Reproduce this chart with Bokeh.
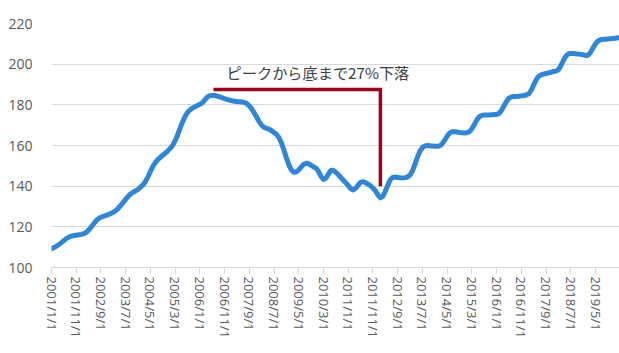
from bokeh.plotting import figure
from bokeh.models import Range1d, FixedTicker
from bokeh.core.properties import value
from bokeh.embed import file_html
from bokeh.resources import INLINE

# Monthly index values, 2001/1 .. 2020/2
v2001 = [109.3, 109.8, 110.5, 111.3, 112.2, 113.2, 114.2, 114.9, 115.4, 115.7, 115.9, 116.1]
v2002 = [116.3, 116.6, 117.2, 118.4, 119.8, 121.4, 122.9, 124.0, 124.7, 125.2, 125.6, 126.0]
v2003 = [126.6, 127.2, 128.0, 129.1, 130.5, 132.0, 133.6, 135.0, 136.2, 137.0, 137.7, 138.4]
v2004 = [139.5, 140.6, 142.3, 144.6, 147.2, 149.7, 151.6, 153.1, 154.2, 155.2, 156.2, 157.3]
v2005 = [158.6, 160.1, 162.3, 165.2, 168.5, 171.6, 174.3, 176.2, 177.5, 178.4, 179.1, 179.7]
v2006 = [180.3, 181.0, 182.4, 183.8, 184.5, 184.6, 184.6, 184.3, 183.9, 183.5, 183.0, 182.6]
v2007 = [182.3, 182.0, 181.8, 181.6, 181.5, 181.4, 181.2, 180.6, 179.5, 177.9, 176.0, 173.9]
v2008 = [171.6, 169.9, 168.9, 168.4, 168.0, 167.3, 166.4, 165.4, 163.8, 161.2, 157.8, 153.9]
v2009 = [150.5, 148.0, 146.8, 147.0, 148.0, 149.5, 150.8, 151.3, 151.0, 150.3, 149.5, 148.8]
v2010 = [147.2, 144.8, 143.3, 144.0, 146.0, 147.7, 147.8, 146.8, 145.6, 144.3, 142.9, 141.6]
v2011 = [140.3, 138.8, 138.1, 138.9, 140.6, 141.9, 142.2, 141.8, 141.0, 140.2, 139.1, 137.7]
v2012 = [135.6, 134.3, 135.0, 137.5, 140.5, 143.2, 144.3, 144.5, 144.3, 144.1, 144.0, 144.2]
v2013 = [144.5, 145.5, 147.5, 150.8, 154.3, 157.2, 159.0, 159.8, 160.0, 159.9, 159.7, 159.6]
v2014 = [159.6, 159.8, 160.8, 162.6, 164.6, 166.1, 166.8, 166.8, 166.6, 166.4, 166.3, 166.2]
v2015 = [166.3, 166.8, 168.2, 170.3, 172.6, 174.2, 174.8, 175.0, 175.0, 175.0, 175.1, 175.2]
v2016 = [175.3, 175.8, 177.3, 179.5, 181.7, 183.3, 183.9, 184.1, 184.1, 184.2, 184.4, 184.6]
v2017 = [184.8, 185.4, 187.2, 189.8, 192.3, 194.0, 194.7, 195.1, 195.4, 195.7, 196.0, 196.4]
v2018 = [196.6, 197.2, 199.3, 201.8, 203.9, 205.0, 205.3, 205.3, 205.1, 205.0, 204.8, 204.6]
v2019 = [204.3, 204.4, 205.8, 208.0, 210.0, 211.4, 212.0, 212.2, 212.3, 212.4, 212.5, 212.6]
v2020 = [212.7, 213.0]

years = list(range(2001, 2021))
yearly = [v2001, v2002, v2003, v2004, v2005, v2006, v2007, v2008, v2009, v2010,
          v2011, v2012, v2013, v2014, v2015, v2016, v2017, v2018, v2019, v2020]

values = []
dates = []
for yr, vals in zip(years, yearly):
    for i, v in enumerate(vals):
        values.append(v)
        dates.append(f"{yr}/{i + 1}/1")

y_ticks = [100, 120, 140, 160, 180, 200, 220]
label_every = 10
annotation_text = "ピークから底まで27%下落"

idx = list(range(len(values)))
peak_i = values.index(max(values[:120]))
trough_i = peak_i + values[peak_i:150].index(min(values[peak_i:150]))

p = figure(width=619, height=353, output_backend="svg", toolbar_location=None,
           x_range=Range1d(0, 229.7), y_range=Range1d(100, 220),
           min_border_left=51, min_border_right=0, min_border_top=23, min_border_bottom=86)
p.outline_line_color = None
p.background_fill_color = "white"
p.border_fill_color = "white"

p.line(idx, values, line_color="#2E86DA", line_width=5, line_join="round", line_cap="round")

# annotation bracket
ann_y = 187.6
p.line([peak_i + 0.5, trough_i, trough_i], [ann_y, ann_y, 140],
       line_color="#A0001E", line_width=3.5, line_join="miter", line_cap="butt")
p.text(x=[peak_i + 5.8], y=[196.2], text=[annotation_text],
       text_font=value("Noto Sans CJK JP"), text_font_size="15.2px",
       text_color="#404040", text_baseline="middle", text_align="left")

# axes
p.xgrid.grid_line_color = None
p.ygrid.grid_line_color = "#D9D9D9"
p.ygrid.grid_line_width = 1

p.yaxis.ticker = FixedTicker(ticks=y_ticks)
p.yaxis.axis_line_color = None
p.yaxis.major_tick_line_color = None
p.yaxis.minor_tick_line_color = None
p.yaxis.major_label_text_font = "Open Sans"
p.yaxis.major_label_text_font_size = "14px"
p.yaxis.major_label_text_color = "#595959"
p.yaxis.major_label_standoff = 13

xt = list(range(0, len(values), label_every))
p.xaxis.ticker = FixedTicker(ticks=xt)
p.xaxis.major_label_overrides = {t: dates[t] for t in xt}
p.xaxis.major_label_orientation = "vertical"
p.xaxis.axis_line_color = "#D9D9D9"
p.xaxis.major_tick_line_color = "#D9D9D9"
p.xaxis.major_tick_out = 6
p.xaxis.major_tick_in = 0
p.xaxis.minor_tick_line_color = None
p.xaxis.major_label_text_font = "Open Sans"
p.xaxis.major_label_text_font_size = "13px"
p.xaxis.major_label_text_color = "#595959"
p.xaxis.major_label_standoff = 3

open("out.html", "w").write(file_html(p, INLINE))
